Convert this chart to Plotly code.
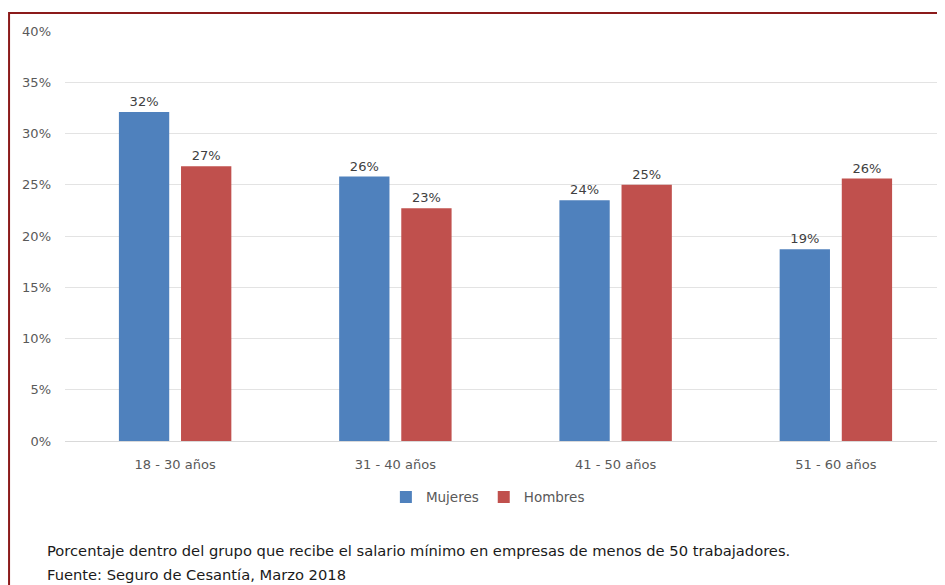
import plotly.graph_objects as go

categories = ["18 - 30 años", "31 - 40 años", "41 - 50 años", "51 - 60 años"]
mujeres = [32.1, 25.8, 23.5, 18.7]
hombres = [26.8, 22.7, 25.0, 25.6]
mujeres_labels = ["32%", "26%", "24%", "19%"]
hombres_labels = ["27%", "23%", "25%", "26%"]
y_ticks = [0, 5, 10, 15, 20, 25, 30, 35, 40]
y_tick_labels = ["0%", "5%", "10%", "15%", "20%", "25%", "30%", "35%", "40%"]

FONT = "DejaVu Sans, Verdana, sans-serif"

fig = go.Figure()
fig.add_trace(go.Bar(
    x=categories, y=mujeres, name="Mujeres",
    marker=dict(color="#4F81BD", line=dict(width=0)),
    text=mujeres_labels, textposition="outside",
    textfont=dict(size=13, color="#404040", family=FONT),
    cliponaxis=False,
))
fig.add_trace(go.Bar(
    x=categories, y=hombres, name="Hombres",
    marker=dict(color="#C0504D", line=dict(width=0)),
    text=hombres_labels, textposition="outside",
    textfont=dict(size=13, color="#404040", family=FONT),
    cliponaxis=False,
))

fig.update_layout(
    width=938, height=577,
    margin=dict(l=57, r=0, t=23, b=144),
    paper_bgcolor="white", plot_bgcolor="white",
    barmode="group", bargap=0.436, bargroupgap=0.19,
    font=dict(family=FONT, size=13, color="#595959"),
    showlegend=True,
    legend=dict(orientation="h", x=0.48, xanchor="center", y=-0.137, yanchor="middle",
                font=dict(size=13.5, color="#595959"), itemwidth=30, traceorder="normal"),
    xaxis=dict(showgrid=False, showline=False, ticks="", ticklabelstandoff=14,
               tickfont=dict(size=13, color="#595959")),
    yaxis=dict(range=[0, 40], tickvals=y_ticks, ticktext=y_tick_labels,
               showgrid=True, gridcolor="#E3E3E3", gridwidth=1, zeroline=True,
               zerolinecolor="#D9D9D9", zerolinewidth=1, showline=False, ticks="",
               tickfont=dict(size=13, color="#595959"), ticklabelstandoff=13),
    shapes=[dict(type="rect", xref="paper", yref="paper",
                 x0=-0.0635, x1=1.03, y0=-0.4, y1=1.044,
                 line=dict(color="#8B1A1A", width=2), fillcolor="rgba(0,0,0,0)", layer="above")],
    annotations=[
        dict(xref="paper", yref="paper", x=-0.023, y=-0.266, xanchor="left", yanchor="middle",
             align="left", showarrow=False,
             text="Porcentaje dentro del grupo que recibe el salario mínimo en empresas de menos de 50 trabajadores.",
             font=dict(size=14.7, color="#1a1a1a", family=FONT)),
        dict(xref="paper", yref="paper", x=-0.023, y=-0.326, xanchor="left", yanchor="middle",
             align="left", showarrow=False,
             text="Fuente: Seguro de Cesantía, Marzo 2018",
             font=dict(size=14.7, color="#1a1a1a", family=FONT)),
    ],
)

fig.write_html("out.html")
